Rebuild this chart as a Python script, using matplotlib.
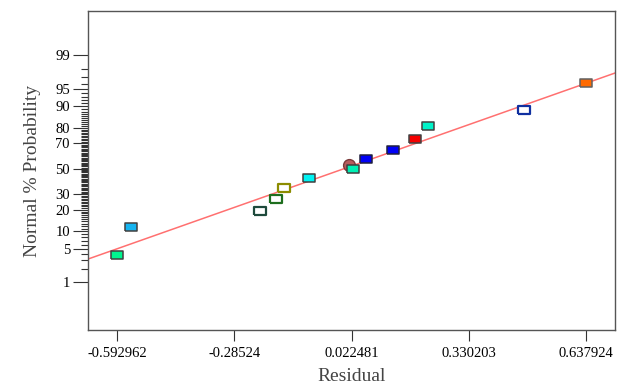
import matplotlib
matplotlib.use("Agg")
import matplotlib.pyplot as plt
from statistics import NormalDist

# residuals (sorted) and their normal % probability
residuals = [-0.592962, -0.5564, -0.2182, -0.1770, -0.1544, -0.0887, 0.0269,
             0.0603, 0.1320, 0.1891, 0.2225, 0.4755, 0.637924]
prob = [3.85, 11.54, 19.23, 26.92, 34.62, 42.31, 50.0,
        57.69, 65.38, 73.08, 80.77, 88.46, 96.15]
fill = ["#00f58f", "#16b4f0", "white", "white", "white", "#00f2f2", "#00f0b4",
        "#0000f5", "#0000f5", "#f50000", "#00f2c8", "white", "#ff6a00"]
edge = ["#404040", "#404040", "#1e4a3c", "#1e6e1e", "#8c8c00", "#404040", "#404040",
        "#202040", "#202040", "#404040", "#404040", "#1030a0", "#606060"]

# extra point drawn as a circle
extra_res = 0.0164
extra_prob = 53.3

# normal fit line
line_mean = 0.002
line_sd = 0.3626

xticks = [-0.592962, -0.28524, 0.022481, 0.330203, 0.637924]
xtick_labels = ["-0.592962", "-0.28524", "0.022481", "0.330203", "0.637924"]
ymajor = [1, 5, 10, 20, 30, 50, 70, 80, 90, 95, 99]
yminor = [p for p in range(2, 99) if p not in ymajor]

nd = NormalDist()


def z(p):
    return nd.inv_cdf(p / 100.0)


plt.rcParams['font.family'] = ['Liberation Serif', 'DejaVu Serif']

fig = plt.figure(figsize=(6.21, 3.87), dpi=100)
ax = fig.add_axes([0.1417, 0.1473, 0.8486, 0.8243])

xlim = (-0.6701, 0.7149)
ax.set_xlim(*xlim)
ax.set_ylim(-3.31, 3.24)

# fit line
ax.plot(xlim, [(v - line_mean) / line_sd for v in xlim], color="#ff7070", lw=1.1, zorder=2)

rect = [(-1, -0.62), (1, -0.62), (1, 0.62), (-1, 0.62), (-1, -0.62)]

ax.plot(extra_res, z(extra_prob), marker="o", ms=8.5, mfc="#b85c5c", mec="#7a3a3a",
        mew=1.0, ls="none", zorder=3)

for r, p, fc, ec in zip(residuals, prob, fill, edge):
    mew = 1.6 if fc == "white" else 1.1
    ax.plot(r, z(p), marker=rect, ms=8.2, mfc=fc, mec=ec, mew=mew, ls="none", zorder=4)

ax.set_xticks(xticks)
ax.set_xticklabels(xtick_labels, fontsize=10.5)
ax.set_yticks([z(p) for p in ymajor])
ax.set_yticklabels([str(p) for p in ymajor], fontsize=10.5)
ax.set_yticks([z(p) for p in yminor], minor=True)

ax.tick_params(axis="x", direction="out", length=8, width=0.8, color="#333333", pad=4)
ax.tick_params(axis="y", which="major", direction="out", length=11, width=0.8,
               color="#333333", pad=2)
ax.tick_params(axis="y", which="minor", direction="out", length=5, width=0.8,
               color="#333333")

for s in ax.spines.values():
    s.set_color("#555555")
    s.set_linewidth(1.0)

ax.set_xlabel("Residual", fontsize=14, color="#444444", labelpad=6)
ax.set_ylabel("Normal % Probability", fontsize=14, color="#444444", labelpad=10)

fig.savefig("out.png", dpi=100)
